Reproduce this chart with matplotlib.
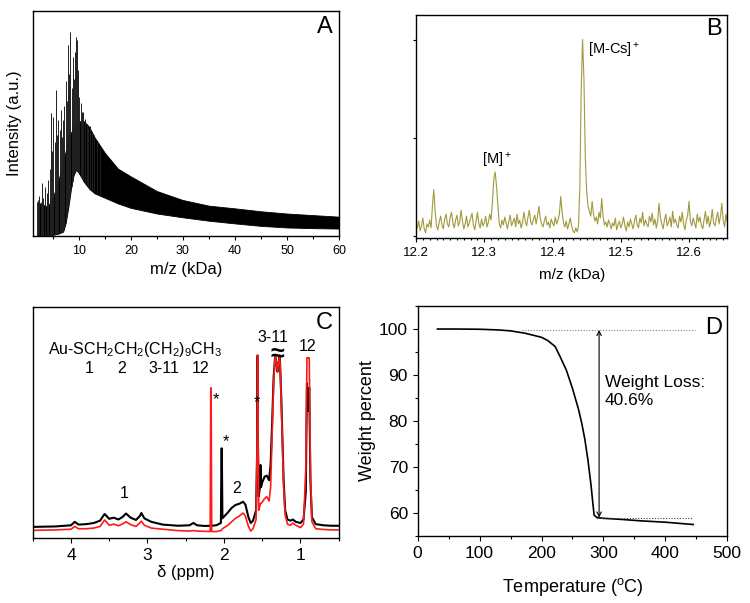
import numpy as np
import matplotlib.pyplot as plt
from matplotlib.ticker import MultipleLocator, NullLocator, NullFormatter

plt.rcParams['font.family'] = ['Liberation Sans', 'DejaVu Sans']
plt.rcParams['mathtext.fontset'] = 'custom'
plt.rcParams['mathtext.rm'] = 'Liberation Sans'
plt.rcParams['mathtext.it'] = 'Liberation Sans:italic'
plt.rcParams['mathtext.bf'] = 'Liberation Sans:bold'

# ---------------- data ----------------
# A: MALDI envelope of the dense spectrum (upper / lower edge) plus the tall spikes
ms_x = [2, 3, 4, 5, 6, 7, 7.5, 8, 8.5, 9, 9.5, 10, 11, 12, 13,
        15, 17.5, 20, 25, 30, 35, 40, 45, 50, 55, 60]
ms_hi = [15, 14, 13, 17, 24, 33, 38, 44, 46, 48, 50, 51, 51, 48.5, 44,
         37, 30, 26.5, 20, 16, 13.5, 12.3, 11, 10, 9.3, 8.6]
ms_lo = [0, 0.5, 0.5, 0.5, 1, 2, 6, 13, 21, 27, 29.5, 28, 24, 21, 19,
         17, 14.5, 12.5, 10, 8.3, 6.8, 5.6, 4.5, 3.8, 3.5, 3.3]
spike_x = [2.1, 2.4, 2.7, 2.9, 3.2, 3.5, 3.8, 4.1, 4.4, 4.66,
           4.9, 5.1, 5.35, 5.6, 5.85, 6.07, 6.3, 6.5, 6.75, 7.0,
           7.25, 7.55, 7.8, 8.0, 8.2, 8.37, 8.6, 8.8, 8.95, 9.15,
           9.3, 9.47, 9.6, 9.75, 9.9, 10.1, 10.4, 10.6, 10.9, 11.2,
           11.5, 11.8, 12.2, 12.6, 13.0, 13.5, 14.0]
spike_top = [16, 18, 15, 23.5, 17, 22, 19, 25, 30, 54.6,
             38, 53, 42, 65, 45, 51.5, 47, 56, 44, 51.5,
             58, 69, 60, 85, 72, 90.8, 66, 75, 79.7, 70,
             82, 88.6, 87, 68, 73.8, 62, 59, 55, 55, 52,
             50, 48, 49, 46, 45, 42, 39]

# B: zoomed spectrum, m/z 12.2 - 12.656 kDa (step 0.002)
b_int = [0.12, 0.08, 0.15, 0.05, 0.10, 0.18, 0.07, 0.03, 0.12, 0.09,
         0.16, 0.08, 0.30, 0.47, 0.25, 0.10, 0.06, 0.14, 0.20, 0.11,
         0.07, 0.17, 0.22, 0.12, 0.09, 0.19, 0.24, 0.13, 0.08, 0.16,
         0.21, 0.10, 0.14, 0.26, 0.15, 0.07, 0.12, 0.20, 0.09, 0.13,
         0.18, 0.23, 0.11, 0.06, 0.15, 0.24, 0.12, 0.08, 0.17, 0.10,
         0.13, 0.20, 0.09, 0.14, 0.22, 0.16, 0.35, 0.58, 0.65, 0.50,
         0.30, 0.12, 0.08, 0.16, 0.11, 0.19, 0.13, 0.07, 0.15, 0.21,
         0.10, 0.14, 0.18, 0.09, 0.22, 0.12, 0.16, 0.08, 0.13, 0.24,
         0.15, 0.10, 0.19, 0.26, 0.14, 0.11, 0.17, 0.21, 0.12, 0.20,
         0.30, 0.18, 0.12, 0.09, 0.15, 0.20, 0.11, 0.14, 0.08, 0.17,
         0.13, 0.10, 0.19, 0.12, 0.16, 0.22, 0.40, 0.24, 0.13, 0.09,
         0.15, 0.07, 0.12, 0.18, 0.10, 0.05, 0.03, 0.08, 0.04, 0.10,
         0.50, 1.50, 2.00, 1.60, 0.80, 0.45, 0.30, 0.25, 0.20, 0.35,
         0.22, 0.15, 0.19, 0.12, 0.24, 0.18, 0.38, 0.20, 0.11, 0.14,
         0.09, 0.16, 0.12, 0.07, 0.13, 0.10, 0.18, 0.06, 0.11, 0.15,
         0.08, 0.12, 0.19, 0.10, 0.05, 0.14, 0.09, 0.17, 0.12, 0.07,
         0.15, 0.21, 0.11, 0.08, 0.18, 0.13, 0.24, 0.10, 0.16, 0.12,
         0.09, 0.20, 0.14, 0.23, 0.11, 0.17, 0.08, 0.15, 0.33, 0.19,
         0.12, 0.07, 0.16, 0.22, 0.10, 0.14, 0.19, 0.09, 0.25, 0.13,
         0.17, 0.11, 0.08, 0.20, 0.14, 0.24, 0.12, 0.06, 0.16, 0.21,
         0.35, 0.15, 0.10, 0.18, 0.13, 0.08, 0.22, 0.14, 0.19, 0.11,
         0.07, 0.16, 0.25, 0.12, 0.20, 0.09, 0.15, 0.27, 0.13, 0.10,
         0.18, 0.24, 0.12, 0.20, 0.33, 0.16, 0.09, 0.22, 0.14]
b_mz = np.linspace(12.2, 12.656, len(b_int))

# C: 1H NMR (black: nanoparticle, red: reference), arbitrary units 0-100
nmr_ppm = [4.5, 4.2, 4.0, 3.95, 3.9, 3.8, 3.7, 3.62, 3.56, 3.5,
           3.44, 3.38, 3.33, 3.28, 3.22, 3.15, 3.1, 3.08, 3.04, 2.95,
           2.8, 2.6, 2.45, 2.4, 2.35, 2.25, 2.18, 2.172, 2.168, 2.16,
           2.1, 2.04, 2.032, 2.028, 2.02, 1.95, 1.9, 1.85, 1.8, 1.75,
           1.72, 1.68, 1.65, 1.62, 1.58, 1.565, 1.56, 1.555, 1.545, 1.53,
           1.522, 1.515, 1.5, 1.47, 1.44, 1.41, 1.39, 1.37, 1.35, 1.33,
           1.31, 1.3, 1.29, 1.27, 1.25, 1.22, 1.2, 1.17, 1.13, 1.1,
           1.06, 1.0, 0.96, 0.93, 0.915, 0.9, 0.885, 0.87, 0.85, 0.8,
           0.7, 0.6, 0.5]
nmr_black = [4.8, 5.0, 5.5, 7.0, 5.8, 6.0, 6.5, 7.5, 10.4, 8.3,
             8.8, 8.0, 9.0, 10.6, 8.8, 7.8, 9.5, 10.8, 8.5, 7.0,
             5.8, 5.3, 5.5, 6.5, 5.5, 5.2, 5.3, 5.3, 5.3, 5.3,
             5.5, 6.5, 38.8, 38.8, 8.5, 11.0, 13.0, 14.3, 14.8, 15.7,
             14.5, 9.0, 6.5, 7.5, 12.0, 40.0, 79.0, 40.0, 18.0, 22.0,
             31.6, 22.0, 24.0, 26.5, 27.0, 25.0, 32.0, 50.0, 70.0, 79.0,
             75.0, 72.0, 75.0, 79.0, 60.0, 25.0, 12.0, 8.0, 7.5, 8.0,
             7.0, 6.5, 8.0, 20.0, 67.0, 55.0, 65.0, 25.0, 9.0, 6.0,
             5.5, 5.3, 5.3]
nmr_red = [3.3, 3.5, 3.8, 5.0, 4.0, 4.0, 4.3, 5.0, 7.8, 5.5,
           6.0, 5.3, 6.0, 7.0, 5.8, 5.0, 6.5, 7.3, 5.5, 4.3,
           3.8, 3.2, 3.0, 3.2, 3.0, 2.9, 2.8, 65.0, 65.0, 2.8,
           2.8, 3.2, 3.5, 3.6, 4.0, 5.5, 7.0, 8.5, 9.5, 10.8,
           9.5, 5.0, 3.0, 4.0, 8.0, 45.0, 79.0, 45.0, 12.0, 14.0,
           15.0, 15.0, 15.5, 17.0, 17.9, 16.0, 22.0, 45.0, 68.0, 79.0,
           75.0, 72.0, 75.0, 79.0, 58.0, 22.0, 10.0, 6.0, 5.5, 6.5,
           5.5, 4.5, 6.0, 30.0, 78.0, 78.0, 78.0, 30.0, 7.0, 4.0,
           3.7, 3.5, 3.5]

# D: TGA
tga_temp = [32, 60, 100, 130, 150, 173, 200, 210, 222, 230,
            240, 250, 260, 265, 270, 275, 280, 283, 285, 290,
            300, 330, 360, 400, 445]
tga_weight = [100, 100, 99.95, 99.8, 99.6, 99.1, 98.2, 97.5, 96.2, 94.0,
              91.1, 87.1, 82.4, 79.5, 76.0, 71.5, 66.0, 62.0, 59.5, 59.0,
              58.85, 58.6, 58.3, 58.0, 57.5]
loss_top = 99.8
loss_bottom = 59.0


def style(ax, size, major_len=3.0, minor_len=1.8):
    ax.tick_params(which='both', direction='out', top=False, right=False,
                   labelsize=size, width=0.8, colors='black')
    ax.tick_params(which='major', length=major_len)
    ax.tick_params(which='minor', length=minor_len)
    for s in ax.spines.values():
        s.set_linewidth(1.0)


fig = plt.figure(figsize=(7.5, 6.03), dpi=100)

# ---------------- A ----------------
axA = fig.add_axes([0.044, 0.6086, 0.408, 0.3731])
axA.fill_between(ms_x, ms_lo, ms_hi, color='black', lw=0.6)
axA.vlines(spike_x, np.interp(spike_x, ms_x, ms_lo), spike_top,
           color='#202020', lw=0.7)
axA.set_xlim(1.2, 60)
axA.set_ylim(0, 100)
axA.xaxis.set_major_locator(MultipleLocator(10))
axA.xaxis.set_minor_locator(MultipleLocator(5))
axA.yaxis.set_major_locator(NullLocator())
style(axA, 9)
axA.set_xlabel('m/z (kDa)', fontsize=12)
axA.xaxis.set_label_coords(0.5, -0.115)
axA.set_ylabel('Intensity (a.u.)', fontsize=12)
axA.yaxis.set_label_coords(-0.035, 0.5)
axA.text(0.98, 0.927, 'A', transform=axA.transAxes, ha='right', va='center',
         fontsize=17)

# ---------------- B ----------------
axB = fig.add_axes([0.5547, 0.6058, 0.415, 0.3693])
axB.plot(b_mz, b_int, color='#a09a3c', lw=0.8)
axB.set_xlim(12.2, 12.656)
axB.set_ylim(-0.02, 2.25)
axB.xaxis.set_major_locator(MultipleLocator(0.1))
axB.xaxis.set_minor_locator(MultipleLocator(0.01))
axB.yaxis.set_major_locator(MultipleLocator(1))
axB.yaxis.set_major_formatter(NullFormatter())
style(axB, 9.5, major_len=2.0, minor_len=1.5)
axB.tick_params(axis='x', which='major', length=3.0)
axB.set_xlabel('m/z (kDa)', fontsize=11)
axB.xaxis.set_label_coords(0.5, -0.135)
axB.text(12.319, 0.77, '[M]$^+$', ha='center', va='center', fontsize=10.5)
axB.text(12.452, 1.89, '[M-Cs]$^+$', ha='left', va='center', fontsize=10.5)
axB.text(0.983, 0.935, 'B', transform=axB.transAxes, ha='right', va='center',
         fontsize=17)

# ---------------- C ----------------
axC = fig.add_axes([0.0436, 0.1078, 0.408, 0.3831])
axC.plot(nmr_ppm, nmr_black, color='black', lw=1.5)
axC.plot(nmr_ppm, nmr_red, color='#ff1a1a', lw=1.2)
axC.set_xlim(4.5, 0.5)
axC.set_ylim(0, 100)
axC.xaxis.set_major_locator(MultipleLocator(1))
axC.xaxis.set_minor_locator(MultipleLocator(0.5))
axC.yaxis.set_major_locator(NullLocator())
style(axC, 12.5, major_len=3.5, minor_len=2.2)
axC.set_xlabel('δ (ppm)', fontsize=12)
axC.xaxis.set_label_coords(0.5, -0.115)
axC.text(0.981, 0.929, 'C', transform=axC.transAxes, ha='right', va='center',
         fontsize=17)
axC.text(4.30, 81.4, 'Au-SCH$_2$CH$_2$(CH$_2$)$_9$CH$_3$', ha='left',
         va='center', fontsize=11.5)
for lab, px in zip(['1', '2', '3-11', '12'], [3.76, 3.34, 2.79, 2.31]):
    axC.text(px, 73.4, lab, ha='center', va='center', fontsize=11.5)
axC.text(1.355, 86.9, '3-11', ha='center', va='center', fontsize=11.5)
axC.text(0.905, 82.8, '12', ha='center', va='center', fontsize=11.5)
axC.text(1.30, 79.5, '≈', ha='center', va='center', fontsize=18,
         fontweight='bold')
for sx, sy in [(2.104, 60), (1.973, 41.7), (1.572, 58.6)]:
    axC.text(sx, sy, '*', ha='center', va='center', fontsize=12)
axC.text(3.30, 19.3, '1', ha='center', va='center', fontsize=11.5)
axC.text(1.83, 21.5, '2', ha='center', va='center', fontsize=11.5)

# ---------------- D ----------------
axD = fig.add_axes([0.5569, 0.1111, 0.4128, 0.3814])
axD.plot(tga_temp, tga_weight, color='black', lw=1.2)
axD.plot([168, 448], [loss_top, loss_top], color='#808080', lw=0.8,
         ls=(0, (1, 1.5)))
axD.plot([288, 445], [loss_bottom, loss_bottom], color='#404040', lw=0.8,
         ls=(0, (1, 1.5)))
axD.annotate('', xy=(293, loss_bottom), xytext=(293, loss_top),
             arrowprops=dict(arrowstyle='<->', lw=0.8, color='black',
                             mutation_scale=8, shrinkA=0, shrinkB=0))
axD.text(302, 86.4, 'Weight Loss:\n40.6%', ha='left', va='center',
         fontsize=12.5, linespacing=1.25)
axD.set_xlim(0, 500)
axD.set_ylim(55, 105)
axD.xaxis.set_major_locator(MultipleLocator(100))
axD.xaxis.set_minor_locator(MultipleLocator(50))
axD.yaxis.set_major_locator(MultipleLocator(10))
axD.yaxis.set_minor_locator(MultipleLocator(5))
style(axD, 12.5, major_len=3.5, minor_len=2.2)
axD.set_xlabel('Temperature ($^{\\rm o}$C)', fontsize=13)
axD.xaxis.set_label_coords(0.5, -0.175)
axD.set_ylabel('Weight percent', fontsize=13)
axD.yaxis.set_label_coords(-0.135, 0.5)
axD.text(0.982, 0.904, 'D', transform=axD.transAxes, ha='right', va='center',
         fontsize=17)

fig.savefig('out.png', dpi=100)
